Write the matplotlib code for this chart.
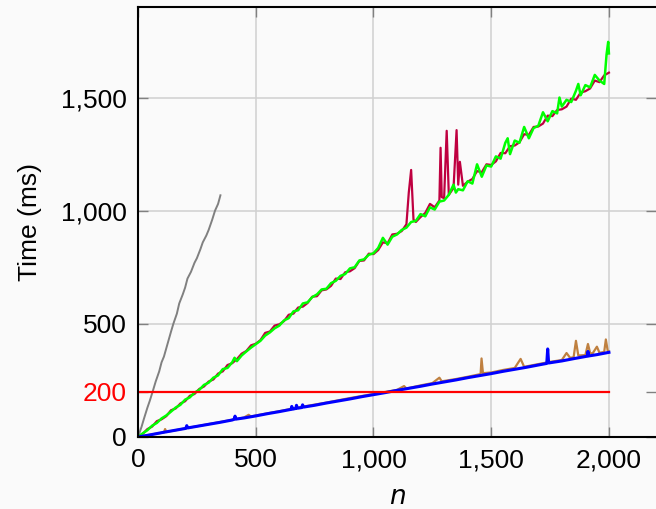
import matplotlib
matplotlib.use("Agg")
import matplotlib.pyplot as plt
from matplotlib.ticker import FuncFormatter

# gray series (stops early)
gray_n = [0, 15, 25, 40, 50, 62, 75, 90, 100, 110, 125, 140, 150, 165, 175, 190,
          200, 210, 225, 240, 250, 265, 275, 290, 300, 315, 327, 340, 350]
gray_t = [0, 45, 80, 130, 160, 200, 245, 290, 330, 355, 410, 465, 500, 545, 590, 630,
          660, 700, 730, 770, 790, 830, 860, 890, 915, 960, 1000, 1030, 1068]

# purple series
purple_n = [0, 20, 40, 60, 80, 100, 120, 140, 160, 180, 200, 220, 240, 260, 280, 300,
            320, 340, 360, 380, 400, 420, 440, 460, 480, 500, 520, 540, 560, 580, 600,
            620, 640, 660, 680, 700, 720, 740, 760, 780, 800, 820, 840, 860, 880, 900,
            920, 940, 960, 980, 1000, 1020, 1040, 1060, 1080, 1100, 1120, 1140, 1150,
            1160, 1170, 1180, 1200, 1220, 1240, 1260, 1280, 1285, 1290, 1300, 1311,
            1320, 1340, 1353, 1360, 1367, 1380, 1400, 1420, 1440, 1460, 1480, 1500,
            1520, 1540, 1560, 1580, 1600, 1620, 1640, 1660, 1680, 1700, 1720, 1740,
            1760, 1780, 1800, 1820, 1840, 1860, 1880, 1900, 1920, 1940, 1960, 1980, 2000]
purple_t = [0, 14, 35, 46, 70, 78, 92, 118, 126, 148, 158, 182, 190, 212, 223, 245,
            254, 280, 290, 318, 326, 344, 368, 380, 405, 412, 428, 460, 466, 492, 498,
            512, 540, 545, 572, 576, 592, 620, 622, 648, 652, 668, 700, 698, 728, 732,
            746, 778, 780, 810, 808, 826, 860, 856, 895, 898, 910, 940, 1080,
            1180, 960, 950, 972, 990, 1030, 1015, 1045, 1278, 1060, 1055, 1353,
            1070, 1100, 1356, 1115, 1216, 1110, 1128, 1140, 1175, 1170, 1205, 1202,
            1218, 1255, 1254, 1285, 1288, 1302, 1338, 1335, 1370, 1372, 1385, 1420,
            1418, 1445, 1448, 1460, 1495, 1490, 1522, 1528, 1540, 1575, 1568, 1598, 1610]

# green series
green_n = [0, 20, 40, 60, 80, 100, 120, 140, 160, 180, 200, 220, 240, 260, 280, 300,
           320, 340, 360, 380, 400, 410, 420, 440, 460, 480, 500, 520, 540, 560, 580,
           600, 620, 640, 660, 680, 700, 720, 740, 760, 780, 800, 820, 840, 860, 880,
           900, 920, 940, 960, 980, 1000, 1020, 1040, 1060, 1080, 1100, 1120, 1140,
           1160, 1180, 1200, 1220, 1240, 1260, 1280, 1300, 1320, 1340, 1350, 1360,
           1380, 1400, 1420, 1440, 1460, 1480, 1500, 1520, 1540, 1560, 1570, 1580,
           1600, 1620, 1640, 1660, 1680, 1700, 1720, 1740, 1760, 1780, 1790, 1800,
           1820, 1840, 1860, 1870, 1880, 1900, 1920, 1940, 1960, 1980, 1990, 1997, 2000]
green_t = [0, 16, 30, 50, 62, 82, 95, 112, 130, 142, 165, 175, 196, 208, 230, 240,
           262, 272, 300, 305, 330, 350, 335, 360, 378, 395, 410, 425, 448, 462, 480,
           492, 515, 525, 555, 560, 590, 595, 618, 630, 652, 655, 680, 690, 712, 720,
           745, 750, 780, 785, 805, 812, 835, 880, 850, 885, 895, 915, 925,
           950, 955, 985, 975, 1015, 1005, 1040, 1045, 1070, 1115, 1080, 1095,
           1090, 1130, 1120, 1205, 1150, 1200, 1195, 1240, 1230, 1300, 1320, 1250,
           1310, 1300, 1370, 1320, 1365, 1375, 1435, 1395, 1440, 1430, 1500, 1460,
           1490, 1480, 1530, 1560, 1510, 1555, 1545, 1600, 1575, 1560, 1690, 1746, 1695]

# brown series
brown_n = [0, 50, 110, 115, 120, 200, 300, 400, 450, 470, 480, 500, 600, 700, 800,
           850, 900, 1000, 1100, 1130, 1140, 1200, 1250, 1280, 1290, 1350, 1400, 1455,
           1459, 1465, 1500, 1550, 1600, 1625, 1640, 1700, 1750, 1800, 1820, 1835,
           1850, 1860, 1870, 1900, 1911, 1920, 1930, 1949, 1960, 1980, 1987, 1995, 2000]
brown_t = [0, 10, 20, 35, 22, 38, 57, 76, 86, 98, 90, 95, 114, 134, 152,
           162, 172, 190, 208, 225, 214, 228, 238, 262, 246, 256, 266, 278,
           347, 282, 285, 296, 305, 345, 310, 322, 332, 340, 371, 350,
           352, 425, 360, 362, 411, 372, 368, 399, 372, 376, 431, 380, 378]

# blue series
blue_n = [0, 50, 100, 203, 207, 211, 250, 300, 350, 400, 408, 412, 416, 450, 500, 550,
          600, 650, 653, 657, 670, 673, 677, 695, 699, 703, 750, 800, 850, 900, 950,
          1000, 1050, 1100, 1150, 1200, 1250, 1300, 1350, 1400, 1450, 1500, 1550,
          1600, 1650, 1700, 1736, 1740, 1744, 1800, 1850, 1908, 1911, 1914, 1950, 2000]
blue_t = [0, 9, 19, 38, 50, 40, 47, 56, 65, 75, 78, 92, 79, 84, 93, 103,
          112, 122, 135, 123, 126, 140, 127, 130, 142, 132, 140, 150, 159, 168, 178,
          187, 196, 206, 215, 224, 234, 243, 252, 262, 271, 280, 290,
          299, 308, 318, 325, 389, 327, 336, 346, 357, 378, 358, 364, 374]

# red threshold line
red_n = [0, 2000]
red_t = [200, 200]

x_ticks = [0, 500, 1000, 1500, 2000]
y_ticks = [0, 200, 500, 1000, 1500]

plt.rcParams['font.family'] = ['Liberation Sans', 'DejaVu Sans']
plt.rcParams['mathtext.fontset'] = 'dejavusans'

fig = plt.figure(figsize=(6.56, 5.09), dpi=100, facecolor='#fafafa')
ax = fig.add_axes([0.2104, 0.1415, 0.7896, 0.8447])
ax.set_facecolor('#fafafa')

ax.plot(gray_n, gray_t, color='#808080', lw=1.4)
ax.plot(purple_n, purple_t, color='#bf0040', lw=1.6)
ax.plot(green_n, green_t, color='#00ff00', lw=1.8)
ax.plot(brown_n, brown_t, color='#bf8040', lw=1.6)
ax.plot(blue_n, blue_t, color='#0000ff', lw=2.2)
ax.plot(red_n, red_t, color='#ff0000', lw=1.6)

ax.set_xlim(0, 2200)
ax.set_ylim(0, 1900)
ax.set_xticks(x_ticks)
ax.set_yticks(y_ticks)
fmt = FuncFormatter(lambda v, p: '{:,}'.format(int(v)))
ax.xaxis.set_major_formatter(fmt)
ax.yaxis.set_major_formatter(fmt)
ax.tick_params(direction='in', length=7, width=1, color='#808080',
               labelsize=19, pad=8, top=True, right=True)
ax.get_yticklabels()[1].set_color('#ff0000')

ax.grid(True, color='#d0d0d0', lw=1.1)
ax.set_axisbelow(True)
ax.yaxis.get_gridlines()[1].set_visible(False)
ax.yaxis.get_gridlines()[0].set_visible(False)
ax.xaxis.get_gridlines()[0].set_visible(False)

for s in ['left', 'bottom', 'top']:
    ax.spines[s].set_linewidth(1.5)
    ax.spines[s].set_color('black')
ax.spines['right'].set_visible(False)

ax.set_xlabel('$n$', fontsize=19, labelpad=9)
ax.set_ylabel('Time (ms)', fontsize=19, labelpad=14)

plt.savefig('out.png', dpi=100, facecolor='#fafafa')
